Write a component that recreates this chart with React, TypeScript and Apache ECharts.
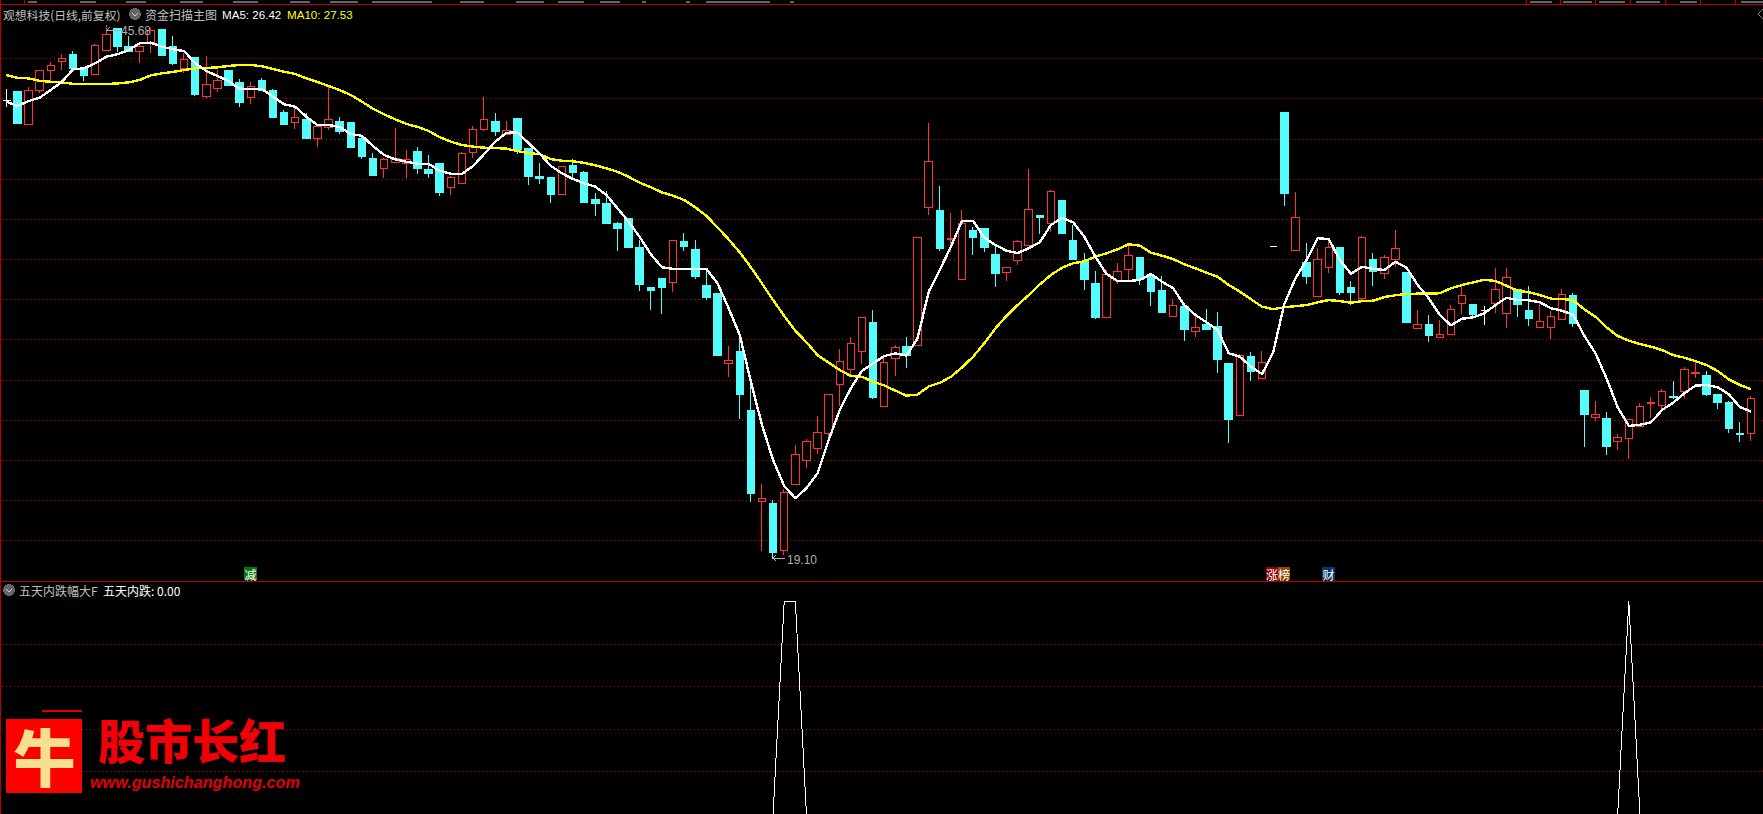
import React, { useEffect, useRef } from "react";
import * as echarts from "echarts";

const opens = [
  41.93,42.38,40.70,42.40,43.39,43.84,44.22,43.48,43.19,44.39,
  45.50,44.62,44.34,44.74,45.42,44.59,43.48,44.03,42.13,42.50,
  43.38,42.78,42.05,42.88,42.43,41.29,40.80,40.94,40.02,40.55,
  40.84,40.79,40.04,39.04,38.51,38.81,38.77,39.39,38.45,38.75,
  37.56,37.76,39.31,40.45,40.84,40.24,40.99,39.54,38.10,38.05,
  37.22,38.65,38.30,37.00,36.80,35.76,36.01,34.61,32.62,33.02,
  32.83,34.91,34.51,32.72,32.32,28.80,29.43,26.45,21.96,21.86,
  19.49,22.77,23.97,24.57,25.31,27.75,28.50,29.40,30.83,26.66,
  29.05,29.68,29.70,36.57,36.42,35.00,32.98,35.41,35.51,34.26,
  33.33,33.93,34.68,36.20,35.77,36.95,34.96,33.87,32.82,31.09,
  32.92,33.48,34.11,33.12,32.47,31.14,31.67,30.41,30.73,30.63,
  28.79,26.21,29.18,28.05,34.66,41.29,34.43,33.82,32.17,33.58,
  34.61,32.62,32.07,34.01,33.28,33.98,33.32,30.54,30.73,30.13,
  30.25,31.79,31.77,31.43,31.79,31.29,32.52,31.43,30.59,30.59,
  31.00,32.22,27.49,26.11,26.05,24.92,25.06,25.66,26.81,26.71,
  27.19,27.41,28.29,28.19,27.29,26.89,25.35,25.32,
];
const closes = [
  41.93,40.74,42.42,43.41,43.66,44.01,43.48,43.13,44.66,45.20,
  44.62,44.35,44.61,45.37,44.17,43.73,43.96,42.23,42.71,42.91,
  42.66,41.83,42.61,42.43,41.04,40.72,41.07,40.04,40.59,40.97,
  40.34,39.59,39.10,38.15,38.98,39.01,38.98,38.50,38.25,37.35,
  38.08,39.28,40.47,40.97,40.34,40.42,39.49,38.10,38.00,37.25,
  38.63,38.30,36.85,36.80,35.76,35.51,34.61,32.77,32.47,32.62,
  34.94,34.66,33.12,32.12,29.23,28.94,27.29,22.36,22.10,19.42,
  22.40,24.29,24.94,25.38,27.28,28.92,29.82,31.11,27.14,28.87,
  29.62,29.23,35.10,38.88,34.56,35.06,35.79,35.11,34.61,33.27,
  33.60,34.90,36.49,36.06,37.39,35.31,34.01,32.97,31.08,33.25,
  33.40,34.20,32.97,32.42,31.33,31.71,30.48,30.61,30.48,29.03,
  26.00,29.22,28.39,28.87,34.66,37.30,36.09,33.12,33.97,34.61,
  32.37,32.37,35.10,33.37,34.10,34.55,30.83,30.76,30.23,30.26,
  31.51,32.21,31.23,31.43,32.51,33.10,31.77,31.03,30.91,31.16,
  32.26,30.78,26.25,26.28,24.70,25.14,26.03,26.68,26.88,27.43,
  27.14,28.52,28.34,27.29,26.89,25.55,25.30,27.08,
];
const lows = [
  41.58,40.74,40.70,42.26,42.88,43.43,43.43,42.88,43.19,44.39,
  44.32,44.32,43.79,44.29,44.12,43.68,43.26,42.13,42.02,42.35,
  42.63,41.60,41.73,42.38,41.04,40.67,40.49,40.04,39.61,40.44,
  40.24,39.59,39.01,38.15,38.05,38.81,38.05,38.26,38.05,37.15,
  37.20,37.76,39.04,40.40,40.14,40.24,39.26,37.70,37.75,36.80,
  37.22,38.05,36.80,36.16,35.76,34.41,34.61,32.42,31.47,31.27,
  32.37,34.41,33.02,31.97,29.23,28.14,26.05,21.91,19.47,19.10,
  19.27,22.77,23.61,24.30,25.00,26.70,28.25,28.80,27.04,26.66,
  28.19,28.59,29.70,36.22,34.41,34.36,32.98,34.21,34.36,32.62,
  32.92,33.72,34.68,35.26,35.36,35.31,34.01,32.47,31.03,31.09,
  32.77,32.97,32.72,31.67,31.33,31.14,29.93,30.13,30.48,28.34,
  24.85,26.21,27.94,28.05,34.66,36.65,34.43,32.77,32.17,33.32,
  32.22,31.72,31.97,32.67,33.02,33.63,30.83,30.54,29.88,30.13,
  30.25,31.27,31.13,30.73,31.32,30.58,31.13,30.68,30.59,30.03,
  31.00,30.63,24.67,25.95,24.25,24.50,24.05,25.66,26.10,26.50,
  27.04,27.11,28.09,27.19,26.54,25.35,24.90,24.95,
];
const highs = [
  42.48,42.38,42.56,43.42,43.82,44.22,44.37,43.53,44.71,45.68,
  45.50,45.12,44.82,45.52,45.42,45.12,44.27,44.03,44.12,43.43,
  43.43,42.96,42.81,43.03,42.48,41.43,41.58,41.29,40.64,42.60,
  41.09,40.79,40.14,39.29,39.04,40.52,39.44,39.59,39.19,38.75,
  38.15,39.33,40.64,42.07,41.30,40.89,40.99,39.54,38.80,38.10,
  38.63,39.00,38.40,37.30,37.40,35.86,36.01,34.96,32.62,33.02,
  34.96,35.31,34.96,33.47,32.32,29.68,30.33,27.84,22.81,22.01,
  22.56,24.75,25.05,26.20,27.28,29.53,30.13,31.11,31.47,29.14,
  29.73,30.13,35.10,40.79,37.65,36.30,36.45,35.61,35.56,34.71,
  33.62,34.96,38.50,36.20,37.45,36.95,35.71,34.31,33.42,33.47,
  33.82,34.71,34.11,33.32,33.17,32.02,31.67,31.23,31.52,31.37,
  28.79,29.28,29.38,29.43,34.66,41.29,37.35,34.81,34.56,35.06,
  34.61,32.92,35.16,34.31,34.21,35.46,33.37,31.47,31.23,30.98,
  31.72,32.67,31.77,31.67,33.57,33.57,32.52,32.67,31.87,31.43,
  32.52,32.32,27.49,26.94,26.40,25.30,26.03,26.84,27.14,27.54,
  27.94,28.64,28.88,28.44,27.29,26.94,25.90,27.19,
];
const ma5 = [
  41.85,41.63,41.88,42.05,42.43,42.84,43.46,43.51,43.76,44.09,
  44.21,44.42,44.76,44.79,44.59,44.46,44.37,43.76,43.38,43.13,
  42.88,42.50,42.48,42.48,42.10,41.72,41.60,41.10,40.69,40.69,
  40.59,40.24,40.15,39.64,39.19,38.98,38.86,38.76,38.76,38.41,
  38.26,38.25,38.65,39.24,39.86,40.30,40.32,39.78,39.26,38.65,
  38.28,38.00,37.78,37.62,37.20,36.54,35.87,35.11,34.25,33.60,
  33.52,33.52,33.52,33.52,32.80,31.56,30.23,27.90,25.75,24.00,
  22.71,22.10,22.60,23.34,25.00,26.50,27.58,28.45,28.82,29.18,
  29.32,29.20,30.07,32.38,33.47,34.63,35.92,35.92,35.08,34.71,
  34.43,34.31,34.55,34.85,35.71,36.06,35.84,35.13,34.13,33.27,
  32.92,32.92,32.97,33.27,32.88,32.56,31.72,31.23,30.86,30.48,
  29.32,29.15,28.65,28.29,29.37,31.77,33.05,33.96,35.05,35.01,
  33.96,33.28,33.63,33.52,33.47,33.88,33.58,32.72,32.06,31.23,
  30.71,31.04,31.11,31.31,31.72,32.09,31.97,31.96,31.86,31.56,
  31.44,31.23,30.19,29.32,28.07,26.63,25.70,25.76,25.88,26.50,
  26.86,27.33,27.71,27.74,27.63,27.28,26.64,26.42,
];
const ma10 = [
  43.18,43.04,43.01,42.89,42.84,42.81,42.74,42.73,42.73,42.73,
  42.76,42.81,42.93,43.16,43.26,43.33,43.43,43.51,43.53,43.56,
  43.63,43.68,43.68,43.61,43.48,43.34,43.23,43.01,42.83,42.63,
  42.43,42.18,41.85,41.50,41.22,40.97,40.74,40.60,40.39,40.08,
  39.86,39.69,39.61,39.56,39.54,39.51,39.39,39.29,39.23,38.99,
  38.91,38.88,38.80,38.68,38.53,38.36,38.11,37.81,37.59,37.33,
  37.17,36.95,36.59,36.16,35.59,34.99,34.35,33.60,32.80,31.97,
  31.18,30.44,29.87,29.23,28.85,28.49,28.19,28.15,27.90,27.72,
  27.46,27.21,27.26,27.67,27.85,28.15,28.62,29.15,29.82,30.56,
  31.18,31.72,32.22,32.75,33.22,33.58,33.80,33.90,34.13,34.30,
  34.50,34.75,34.68,34.33,34.18,34.01,33.75,33.55,33.33,33.13,
  32.72,32.39,32.01,31.64,31.52,31.61,31.67,31.72,31.86,31.97,
  31.92,31.84,31.92,31.94,32.12,32.21,32.27,32.29,32.29,32.31,
  32.56,32.72,32.85,32.98,32.92,32.68,32.44,32.36,32.22,32.04,
  32.02,31.97,31.51,31.14,30.61,30.18,29.95,29.78,29.65,29.48,
  29.23,29.10,28.93,28.73,28.44,28.02,27.74,27.53,
];
const dropSignal = [
  0,0,0,0,0,0,0,0,0,0,
  0,0,0,0,0,0,0,0,0,0,
  0,0,0,0,0,0,0,0,0,0,
  0,0,0,0,0,0,0,0,0,0,
  0,0,0,0,0,0,0,0,0,0,
  0,0,0,0,0,0,0,0,0,0,
  0,0,0,0,0,0,0,0,0,0,
  1,1,0,0,0,0,0,0,0,0,
  0,0,0,0,0,0,0,0,0,0,
  0,0,0,0,0,0,0,0,0,0,
  0,0,0,0,0,0,0,0,0,0,
  0,0,0,0,0,0,0,0,0,0,
  0,0,0,0,0,0,0,0,0,0,
  0,0,0,0,0,0,0,0,0,0,
  0,0,0,0,0,0,1,0,0,0,
  0,0,0,0,0,0,0,0,
];
const whiteDojis = [0, 114, 133];
const categories = opens.map((_, i) => String(i));

const titleStock = "观想科技(日线,前复权)";
const titleMain = "资金扫描主图";
const labelMa5 = "MA5: 26.42";
const labelMa10 = "MA10: 27.53";
const labelSub = "五天内跌幅大F";
const labelSubValue = "五天内跌: 0.00";
const labelHigh = "45.68";
const labelLow = "19.10";

const CYAN = "#54FCFC";
const RED = "#FF3232";
const FRAME = "#B80000";
const DOT = "#C80000";
const GREY = "#C0C0C0";
const CJK = '"Noto Sans CJK SC"';

const PITCH = 11.113;
const CANDLE_LEFT = 0.75;
const CANDLE_WIDTH = PITCH * 158;

const PRICE_TOP = 18.34;
const PRICE_H = 562.26;
const SUB_TOP = 601.3;
const SUB_H = 215;

function txt(x: number, y: number, text: string, fill: string, font: string, align = "left") {
  return { type: "text", x, y, silent: true, z: 20, style: { text, x: 0, y: 0, fill, font, align, verticalAlign: "middle" } };
}
function seg(x1: number, y1: number, x2: number, y2: number, stroke: string, w = 1) {
  return { type: "line", silent: true, z: 15, shape: { x1, y1, x2, y2 }, style: { stroke, lineWidth: w } };
}
function box(x: number, y: number, width: number, height: number, fill: string, z = 15) {
  return { type: "rect", silent: true, z, shape: { x, y, width, height }, style: { fill } };
}
function chevronIcon(cx: number, cy: number) {
  return [
    { type: "circle", silent: true, z: 15, shape: { cx, cy, r: 6 }, style: { fill: "#666666" } },
    { type: "polyline", silent: true, z: 16, shape: { points: [[cx - 3, cy - 1], [cx, cy + 2], [cx + 3, cy - 1]] }, style: { stroke: "#D0D0D0", lineWidth: 1.2, fill: "none" } },
  ];
}

const stripFragments = [
  [28, 37], [80, 96], [126, 146], [180, 203], [233, 258], [290, 310],
  [330, 358], [372, 432], [460, 484], [516, 544], [558, 584], [600, 620],
  [642, 646], [686, 690], [706, 770], [790, 794],
  [1530, 1552], [1563, 1592], [1599, 1625], [1636, 1660], [1680, 1697], [1741, 1763],
];
const stripTicks = [24, 1526.5, 1560.5, 1595.5, 1630.5, 1665.5, 1700.5, 1735.5];

export default function App() {
  const ref = useRef<HTMLDivElement>(null);
  useEffect(() => {
    document.body.style.margin = "0";
    document.body.style.background = "#000";
    const chart = echarts.init(ref.current!, null, { renderer: "svg" });

    const whiteStyle = { color: "#fff", color0: "#fff", borderColor: "#fff", borderColor0: "#fff", borderColorDoji: "#fff" };
    const candleData = opens.map((o, i) => {
      const value = [o, closes[i], lows[i], highs[i]];
      return whiteDojis.includes(i) ? { value, itemStyle: whiteStyle } : { value };
    });

    const dotted = { show: true, showMinLine: false, showMaxLine: false, lineStyle: { color: DOT, type: [1, 3], width: 1 } };
    const hiddenParts = { axisLine: { show: false }, axisTick: { show: false }, axisLabel: { show: false } };

    const graphics: any[] = [
      // frame
      seg(0, 4.5, 1763, 4.5, FRAME),
      seg(0, 581.5, 1763, 581.5, FRAME),
      seg(0.5, 0, 0.5, 814, FRAME),
      ...stripTicks.map((x) => seg(x, 0, x, 4, FRAME)),
      ...stripFragments.map(([a, b]) => box(a, 1, b - a, 2, "#5F6670")),
      { type: "polyline", silent: true, z: 15, shape: { points: [[1763, 9], [1758, 14], [1763, 19]] }, style: { stroke: "#808080", lineWidth: 1, fill: "none" } },
      // header
      txt(3, 14, titleStock, GREY, `11.8px ${CJK}`),
      ...chevronIcon(135, 14),
      txt(145, 14, titleMain, GREY, `12px ${CJK}`),
      txt(222, 14, labelMa5, "#FFFFFF", `11.6px "Liberation Sans"`),
      txt(287, 14, labelMa10, "#FFFF00", `11.6px "Liberation Sans"`),
      // extreme labels
      { type: "polyline", silent: true, z: 15, shape: { points: [[110, 27], [107, 30], [120, 30]] }, style: { stroke: "#B0B0B0", lineWidth: 1, fill: "none" } },
      { type: "polyline", silent: true, z: 15, shape: { points: [[776, 555], [773, 558], [776, 561]] }, style: { stroke: "#B0B0B0", lineWidth: 1, fill: "none" } },
      seg(773, 558.5, 785, 558.5, "#B0B0B0"),
      txt(121, 31, labelHigh, "#B0B0B0", `12px "Liberation Sans"`),
      txt(787, 560, labelLow, "#B0B0B0", `12px "Liberation Sans"`),
      // badges
      box(244, 567, 13, 13, "#007A10"),
      txt(250.5, 574, "减", "#FFFFFF", `12px ${CJK}`, "center"),
      box(1266, 567, 12, 13, "#8B0000"),
      txt(1272, 574, "涨", "#FFFFFF", `12px ${CJK}`, "center"),
      box(1278, 567, 12, 13, "#8B4A00"),
      txt(1284, 574, "榜", "#FFFFFF", `12px ${CJK}`, "center"),
      box(1322, 567, 13, 13, "#003A6B"),
      txt(1328.5, 574, "财", "#FFFFFF", `12px ${CJK}`, "center"),
      // sub pane header
      ...chevronIcon(9, 590),
      txt(19, 590, labelSub, GREY, `12px ${CJK}`),
      txt(103, 590, labelSubValue, "#FFFFFF", `12px ${CJK}`),
      // watermark
      box(6, 719, 76, 74, "#FF0000"),
      seg(42, 711, 82, 711, "#E00000", 2),
      txt(44.5, 755, "牛", "#F6E08E", `900 62px ${CJK}`, "center"),
      txt(98, 738, "股市长红", "#F20008", `900 47px ${CJK}`),
      txt(90, 781.5, "www.gushichanghong.com", "#E00008", `italic bold 16.2px "Liberation Sans"`),
    ];

    chart.setOption({
      animation: false,
      backgroundColor: "#000000",
      grid: [
        { left: 2, right: 0, top: PRICE_TOP, height: PRICE_H },
        { left: CANDLE_LEFT, width: CANDLE_WIDTH, top: PRICE_TOP, height: PRICE_H },
        { left: 2, right: 0, top: SUB_TOP, height: SUB_H },
        { left: CANDLE_LEFT, width: CANDLE_WIDTH, top: SUB_TOP, height: SUB_H },
      ],
      xAxis: [
        { type: "value", gridIndex: 0, min: 0, max: 1, show: false },
        { type: "category", gridIndex: 1, data: categories, show: false, boundaryGap: true },
        { type: "value", gridIndex: 2, min: 0, max: 1, show: false },
        { type: "category", gridIndex: 3, data: categories, show: false, boundaryGap: true },
      ],
      yAxis: [
        { type: "value", gridIndex: 0, min: 18, max: 46, interval: 2, splitLine: dotted, ...hiddenParts },
        { type: "value", gridIndex: 1, min: 18, max: 46, interval: 2, splitLine: { show: false }, ...hiddenParts },
        { type: "value", gridIndex: 2, min: 0, max: 1, interval: 0.2, splitLine: dotted, ...hiddenParts },
        { type: "value", gridIndex: 3, min: 0, max: 1, interval: 0.2, splitLine: { show: false }, ...hiddenParts },
      ],
      series: [
        {
          type: "candlestick",
          name: "K",
          xAxisIndex: 1,
          yAxisIndex: 1,
          barWidth: 8,
          data: candleData,
          z: 3,
          itemStyle: {
            color: "#000000",
            color0: CYAN,
            borderColor: RED,
            borderColor0: CYAN,
            borderColorDoji: RED,
            borderWidth: 1,
          },
        },
        {
          type: "line",
          name: "MA10",
          xAxisIndex: 1,
          yAxisIndex: 1,
          data: ma10,
          showSymbol: false,
          z: 4,
          lineStyle: { color: "#FFFF00", width: 2.4 },
        },
        {
          type: "line",
          name: "MA5",
          xAxisIndex: 1,
          yAxisIndex: 1,
          data: ma5,
          showSymbol: false,
          z: 5,
          lineStyle: { color: "#FFFFFF", width: 2.4 },
        },
        {
          type: "line",
          name: "五天内跌",
          xAxisIndex: 3,
          yAxisIndex: 3,
          data: dropSignal,
          showSymbol: false,
          z: 4,
          lineStyle: { color: "#FFFFFF", width: 1 },
        },
      ],
      graphic: graphics,
    });
    return () => chart.dispose();
  }, []);
  return (
    <div
      ref={ref}
      style={{ position: "fixed", left: 0, top: 0, width: 1763, height: 814, background: "#000", shapeRendering: "crispEdges" } as any}
    />
  );
}
